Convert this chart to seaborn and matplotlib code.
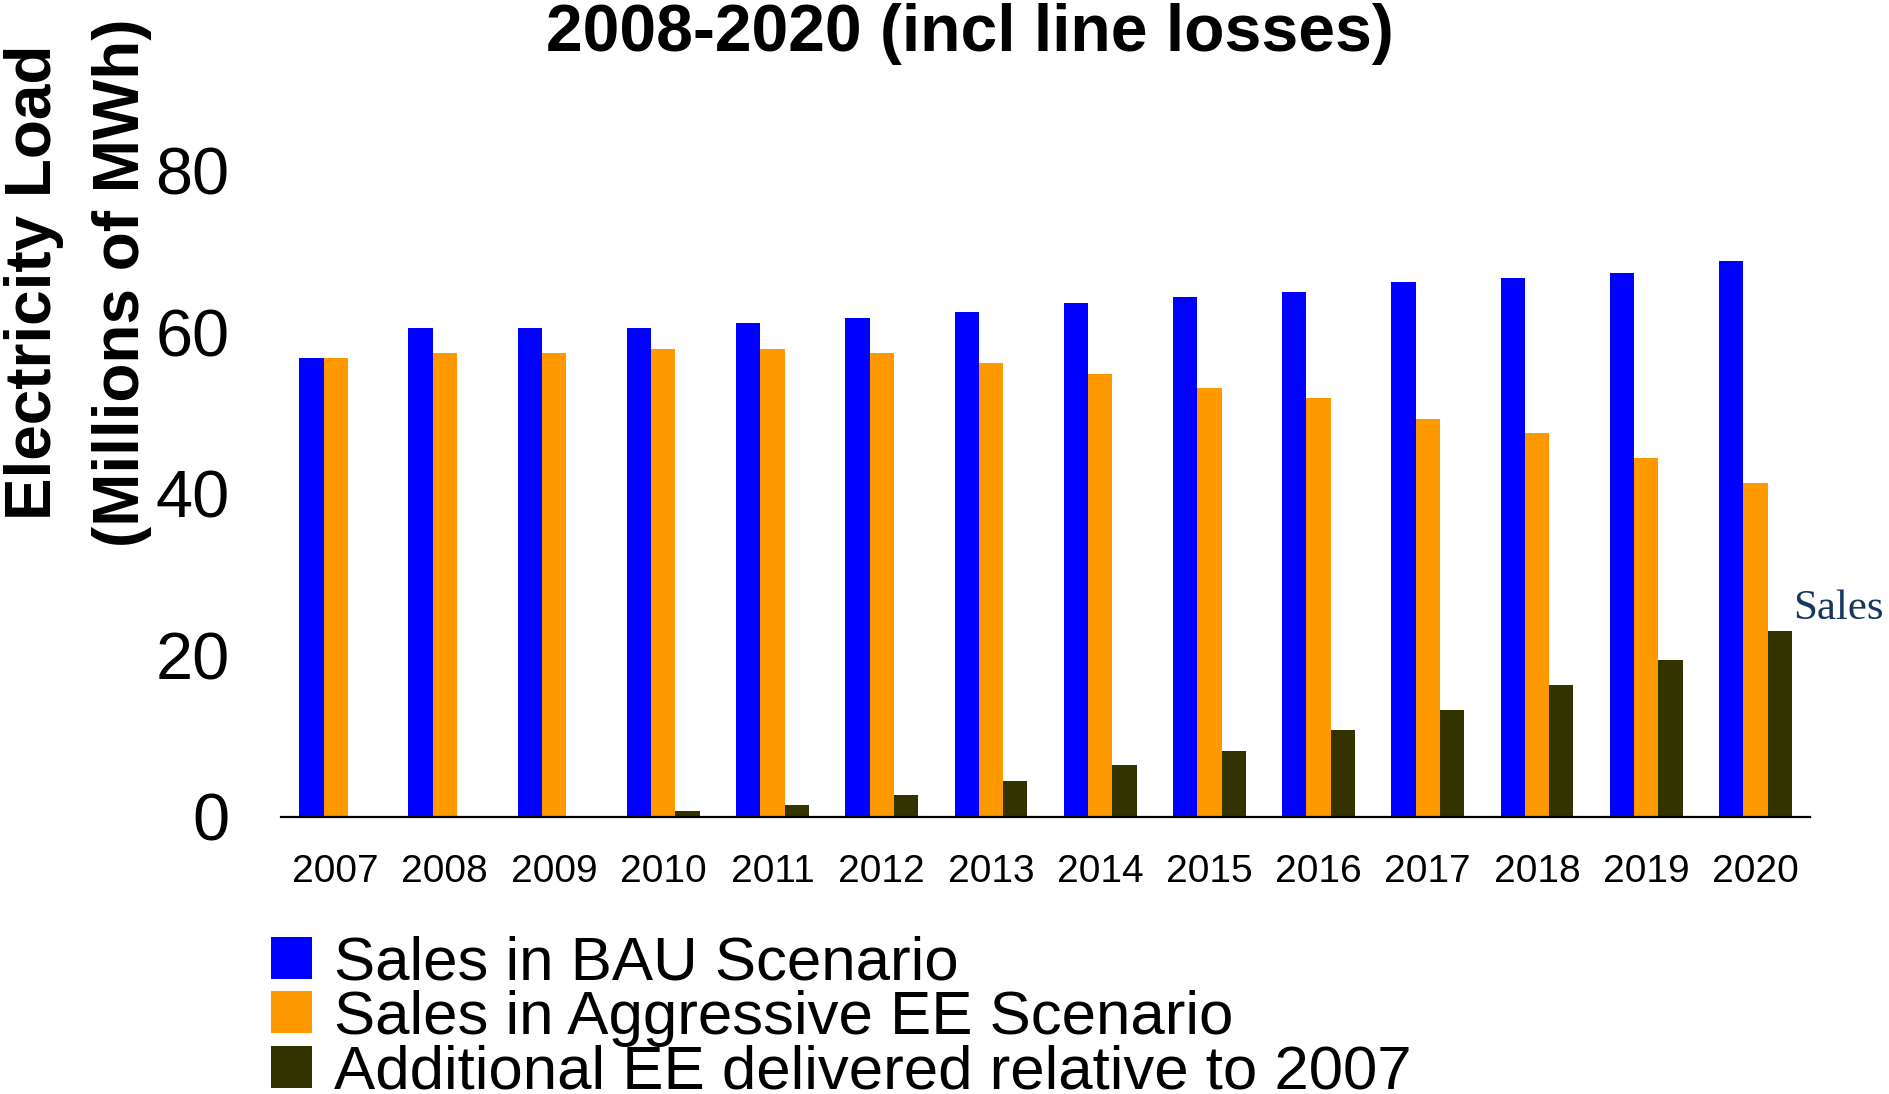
import numpy as np
import pandas as pd
import matplotlib
matplotlib.use("Agg")
import matplotlib.pyplot as plt
import seaborn as sns

years = ["2007", "2008", "2009", "2010", "2011", "2012", "2013",
         "2014", "2015", "2016", "2017", "2018", "2019", "2020"]
bau = [56.8, 60.6, 60.6, 60.6, 61.2, 61.8, 62.5, 63.6, 64.4, 65.0, 66.2, 66.8, 67.4, 68.8]
aggressive = [56.8, 57.4, 57.4, 58.0, 58.0, 57.4, 56.2, 54.9, 53.1, 51.9, 49.3, 47.6, 44.4, 41.3]
additional_ee = [0.0, 0.0, 0.0, 0.75, 1.5, 2.7, 4.5, 6.4, 8.2, 10.8, 13.2, 16.3, 19.4, 23.0]
series_names = ["Sales in BAU Scenario",
                "Sales in Aggressive EE Scenario",
                "Additional EE delivered relative to 2007"]
colors = ["#0000FF", "#FF9900", "#333300"]
yticks = [0, 20, 40, 60, 80]

df = pd.DataFrame({
    "year": years * 3,
    "value": bau + aggressive + additional_ee,
    "series": [series_names[0]] * 14 + [series_names[1]] * 14 + [series_names[2]] * 14,
})

sns.set_style("white")
plt.rcParams["font.family"] = ["Liberation Sans", "DejaVu Sans"]
plt.rcParams["text.color"] = "black"
plt.rcParams["xtick.color"] = "black"
plt.rcParams["ytick.color"] = "black"

fig = plt.figure(figsize=(18.9, 10.94), dpi=100)
ax = fig.add_axes([0.1487, 0.2532, 0.8090, 0.5905])

sns.barplot(data=df, x="year", y="value", hue="series", order=years,
            hue_order=series_names, palette=colors, saturation=1,
            width=0.667, ax=ax, errorbar=None, linewidth=0)

handles, labels = ax.get_legend_handles_labels()
if ax.get_legend() is not None:
    ax.get_legend().remove()

ax.set_xlim(-0.5, len(years) - 0.5)
ax.set_ylim(0, 80)
ax.set_yticks(yticks)
ax.set_yticklabels([str(v) for v in yticks], fontsize=48)
ax.set_xlabel("")
ax.set_ylabel("")

for s in ["top", "right", "left"]:
    ax.spines[s].set_visible(False)
ax.spines["bottom"].set_color("black")
ax.spines["bottom"].set_linewidth(1.6)

ax.tick_params(axis="y", length=0, pad=37, labelcolor="black")
ax.tick_params(axis="x", which="major", length=0, pad=27, labelsize=28, labelcolor="black")
ax.set_xticks(np.arange(-0.5, len(years), 1), minor=True)
ax.tick_params(axis="x", which="minor", length=7, width=1.2, color="#555555", direction="out")

fig.text(0.513, 0.997, "2008-2020 (incl line losses)", ha="center", va="top",
         fontsize=47.5, fontweight="bold")
fig.text(0.018, 0.742, "Electricity Load", rotation=90, ha="center", va="center",
         fontsize=46, fontweight="bold")
fig.text(0.0645, 0.742, "(Millions of MWh)", rotation=90, ha="center", va="center",
         fontsize=46, fontweight="bold")
fig.text(0.9487, 0.444, "Sales", ha="left", va="center", fontsize=31,
         color="#17375E", family="Liberation Serif")

fig.legend(handles, labels, loc="upper left", bbox_to_anchor=(0.1435, 0.145),
           frameon=False, fontsize=44.5, handlelength=0.66, handleheight=0.66,
           handletextpad=0.35, labelspacing=-0.04, borderpad=0, borderaxespad=0)

fig.savefig("out.png", dpi=100)
